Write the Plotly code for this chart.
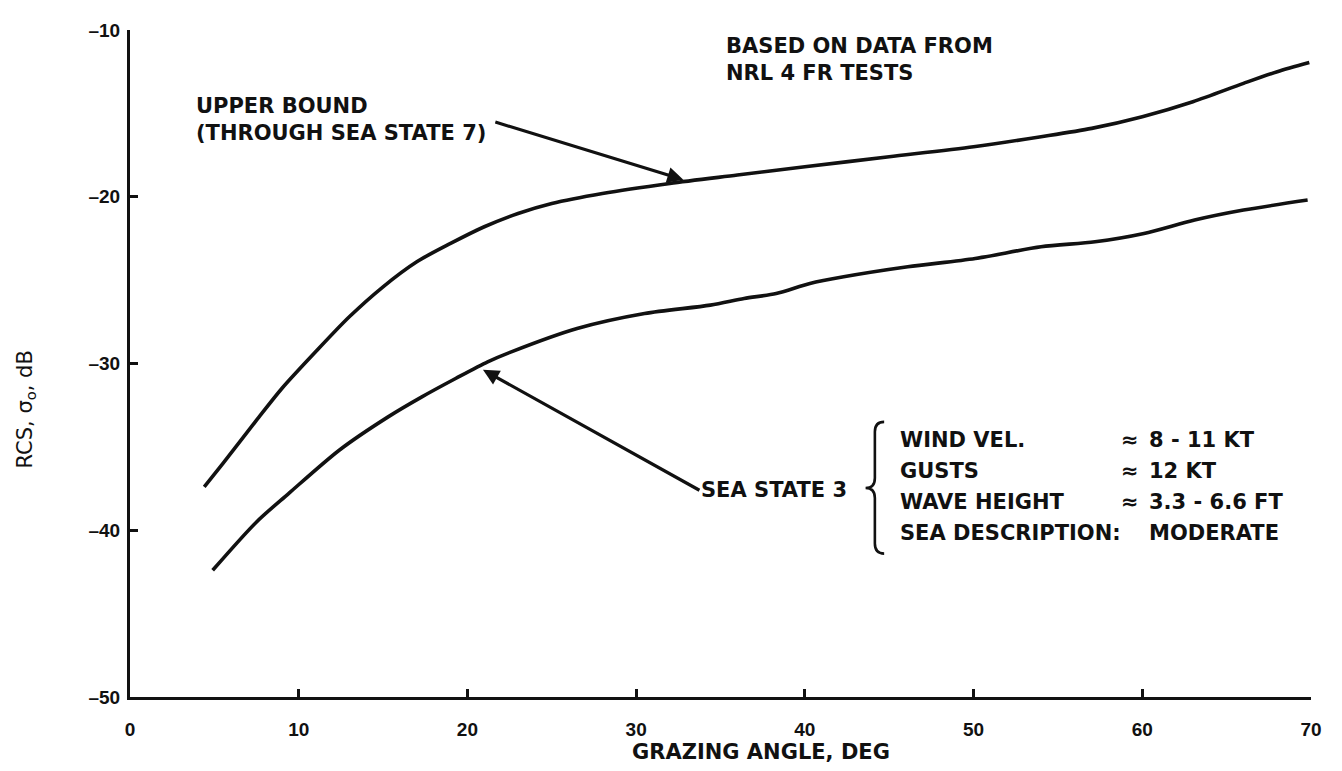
import plotly.graph_objects as go

# ---- data ----
upper_x = [4.4, 5.5, 7.5, 9.0, 11.0, 13.0, 15.0, 17.0, 19.0, 21.0, 23.0, 25.0, 28.0, 32.0,
           36.0, 40.0, 45.0, 50.0, 54.0, 57.0, 60.0, 63.0, 66.0, 68.0, 69.9]
upper_y = [-37.4, -36.0, -33.4, -31.5, -29.3, -27.2, -25.4, -23.9, -22.8, -21.8, -21.0, -20.4,
           -19.8, -19.2, -18.7, -18.2, -17.6, -17.0, -16.4, -15.9, -15.2, -14.3, -13.2, -12.5, -11.95]

lower_x = [4.9, 7.5, 9.4, 12.4, 15.3, 17.3, 19.3, 21.2, 22.6, 26.5, 30.5, 34.4, 36.4, 38.3,
           40.3, 42.3, 46.1, 50.1, 54.0, 57.2, 60.1, 63.1, 66.0, 69.8]
lower_y = [-42.4, -39.5, -37.8, -35.2, -33.2, -32.0, -30.9, -29.9, -29.3, -27.9, -27.0, -26.5,
           -26.1, -25.8, -25.2, -24.8, -24.2, -23.7, -23.0, -22.7, -22.2, -21.4, -20.8, -20.2]

x_tickvals = [0, 10, 20, 30, 40, 50, 60, 70]
x_ticktext = ["0", "10", "20", "30", "40", "50", "60", "70"]
y_tickvals = [-50, -40, -30, -20, -10]
y_ticktext = ["\u201350", "\u201340", "\u201330", "\u201320", "\u201310"]

cond_labels = ["WIND VEL.", "GUSTS", "WAVE HEIGHT", "SEA DESCRIPTION:"]
cond_signs = ["\u2248", "\u2248", "\u2248", ""]
cond_values = ["8 - 11 KT", "12 KT", "3.3 - 6.6 FT", "MODERATE"]

# ---- figure ----
fig = go.Figure()
for xs, ys in [(upper_x, upper_y), (lower_x, lower_y)]:
    fig.add_trace(go.Scatter(x=xs, y=ys, mode="lines",
                             line=dict(color="#111111", width=3.6, shape="spline", smoothing=0.8),
                             showlegend=False, hoverinfo="skip"))

ann_font = dict(family="DejaVu Sans", size=21, color="#111111", weight="bold")
annotations = []

annotations.append(dict(x=35.2, y=-11.74, xref="x", yref="y", xanchor="left", yanchor="middle",
                        align="left", showarrow=False, font=ann_font,
                        text="BASED ON DATA FROM<br>NRL 4 FR TESTS"))

# labels with their pointer arrows (text sits at the arrow tail)
annotations.append(dict(x=32.8, y=-18.98, ax=21.2, ay=-15.38, xref="x", yref="y",
                        axref="x", ayref="y", xanchor="right", yanchor="middle", align="left",
                        font=ann_font, text="UPPER BOUND<br>(THROUGH SEA STATE 7)",
                        showarrow=True, arrowhead=2, arrowsize=1.0, arrowwidth=3.2,
                        arrowcolor="#111111", startstandoff=8))
annotations.append(dict(x=20.92, y=-30.38, ax=33.75, ay=-37.6, xref="x", yref="y",
                        axref="x", ayref="y", xanchor="left", yanchor="middle",
                        font=ann_font, text="SEA STATE 3",
                        showarrow=True, arrowhead=2, arrowsize=1.0, arrowwidth=3.2,
                        arrowcolor="#111111"))

line_y = [-34.58, -36.47, -38.30, -40.19]
for i in range(4):
    annotations.append(dict(x=45.5, y=line_y[i], xref="x", yref="y", xanchor="left",
                            yanchor="middle", showarrow=False, font=ann_font, text=cond_labels[i]))
    if cond_signs[i]:
        annotations.append(dict(x=58.6, y=line_y[i], xref="x", yref="y", xanchor="left",
                                yanchor="middle", showarrow=False, font=ann_font, text=cond_signs[i]))
    annotations.append(dict(x=60.3, y=line_y[i], xref="x", yref="y", xanchor="left",
                            yanchor="middle", showarrow=False, font=ann_font, text=cond_values[i]))

# axis titles
annotations.append(dict(x=37.4, y=-0.0827, xref="x", yref="paper", xanchor="center",
                        yanchor="middle", showarrow=False, font=ann_font,
                        text="GRAZING ANGLE, DEG"))
annotations.append(dict(x=-0.088, y=-32.75, xref="paper", yref="y", xanchor="center",
                        yanchor="middle", showarrow=False, textangle=-90,
                        font=dict(family="DejaVu Sans", size=21, color="#111111"),
                        text="RCS, \u03c3<sub>o</sub>, dB"))

# brace
bx_end, bx_sp, bx_tip = 44.7, 44.15, 43.6
by_top, by_mid, by_bot = -33.5, -37.47, -41.4
d = 0.6
brace = (f"M {bx_end},{by_top} Q {bx_sp},{by_top} {bx_sp},{by_top - d} "
         f"L {bx_sp},{by_mid + d} Q {bx_sp},{by_mid} {bx_tip},{by_mid} "
         f"Q {bx_sp},{by_mid} {bx_sp},{by_mid - d} "
         f"L {bx_sp},{by_bot + d} Q {bx_sp},{by_bot} {bx_end},{by_bot}")

tick_font = dict(family="Liberation Sans", size=19, color="#111111", weight="bold")

# page body adds an 8px margin, so the figure is 16px smaller than the window
fig.update_layout(
    width=1326, height=755,
    margin=dict(l=122, r=16, t=12, b=66),
    paper_bgcolor="white", plot_bgcolor="white",
    annotations=annotations,
    shapes=[dict(type="path", path=brace, xref="x", yref="y",
                 line=dict(color="#111111", width=2.6))],
    xaxis=dict(range=[0, 70], tickvals=x_tickvals, ticktext=x_ticktext,
               showgrid=False, zeroline=False, showline=True, linecolor="#111111", linewidth=3,
               ticks="inside", ticklen=8, tickwidth=2.5, tickcolor="#111111",
               ticklabelstandoff=13, tickfont=tick_font),
    yaxis=dict(range=[-50, -10], tickvals=y_tickvals, ticktext=y_ticktext,
               showgrid=False, zeroline=False, showline=True, linecolor="#111111", linewidth=3,
               ticks="inside", ticklen=8, tickwidth=2.5, tickcolor="#111111",
               ticklabelstandoff=3, tickfont=tick_font),
)

fig.write_html("out.html")
